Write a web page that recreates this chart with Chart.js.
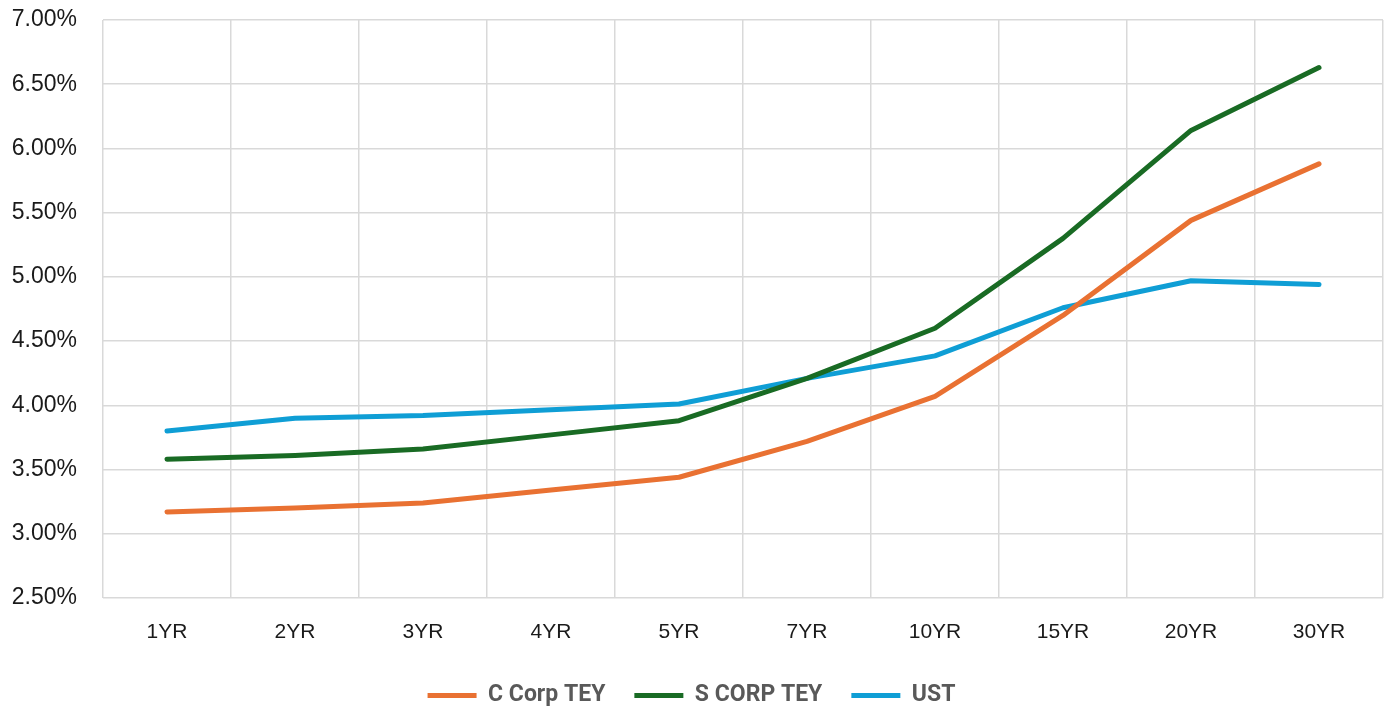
<!DOCTYPE html>
<html>
<head>
<meta charset="utf-8">
<script src="https://cdn.jsdelivr.net/npm/chart.js@4.4.1/dist/chart.umd.min.js"></script>
<style>
  html, body { margin: 0; padding: 0; background: #fff; }
  #wrap { width: 1386px; height: 710px; }
</style>
</head>
<body>
<div id="wrap"><canvas id="c" width="1386" height="710"></canvas></div>
<script>
// tenors along the curve
const tenors = ["1YR", "2YR", "3YR", "4YR", "5YR", "7YR", "10YR", "15YR", "20YR", "30YR"];

// yields in percent
const cCorpTey = [3.17, 3.20, 3.24, 3.34, 3.44, 3.72, 4.07, 4.70, 5.44, 5.88];
const sCorpTey = [3.58, 3.61, 3.66, 3.77, 3.88, 4.21, 4.60, 5.30, 6.14, 6.63];
const ust = [3.80, 3.90, 3.92, 3.965, 4.01, 4.21, 4.385, 4.76, 4.97, 4.94];

const gridColor = "#d9d9d9";

function series(label, data, color) {
    return {
        label: label,
        data: data,
        borderColor: color,
        backgroundColor: color,
        borderWidth: 5,
        borderCapStyle: "round",
        borderJoinStyle: "round",
        pointRadius: 0,
        tension: 0
    };
}

new Chart(document.getElementById("c"), {
    type: "line",
    data: {
        labels: tenors,
        datasets: [
            series("C Corp TEY", cCorpTey, "#E97132"),
            series("S CORP TEY", sCorpTey, "#196B24"),
            series("UST", ust, "#0F9ED5")
        ]
    },
    options: {
        responsive: false,
        animation: false,
        layout: { padding: { top: 20, left: 0, right: 3, bottom: 2 } },
        scales: {
            x: {
                offset: true,
                grid: { offset: true, color: gridColor, lineWidth: 1.5, drawTicks: false },
                border: { display: false },
                ticks: {
                    padding: 22,
                    color: "#1a1a1a",
                    font: { family: "Liberation Sans", size: 21 }
                },
                afterFit: (scale) => { scale.height = 57; }
            },
            y: {
                min: 2.5,
                max: 7,
                // invisible tick marks keep the labels away from the plot
                grid: { color: gridColor, lineWidth: 1.5, drawTicks: true, tickLength: 26, tickColor: "rgba(0,0,0,0)" },
                border: { display: false },
                ticks: {
                    stepSize: 0.5,
                    padding: 0,
                    color: "#1a1a1a",
                    font: { family: "Liberation Sans", size: 23 },
                    callback: (v) => v.toFixed(2) + "%"
                },
                afterFit: (scale) => { scale.width = 103; }
            }
        },
        plugins: {
            legend: {
                position: "bottom",
                maxHeight: 53,
                labels: {
                    usePointStyle: true,
                    pointStyle: "line",
                    pointStyleWidth: 49,
                    padding: 29,
                    color: "#595959",
                    font: { family: "Roboto", size: 23, weight: "bold" }
                }
            },
            tooltip: { enabled: false }
        }
    }
});
</script>
</body>
</html>
